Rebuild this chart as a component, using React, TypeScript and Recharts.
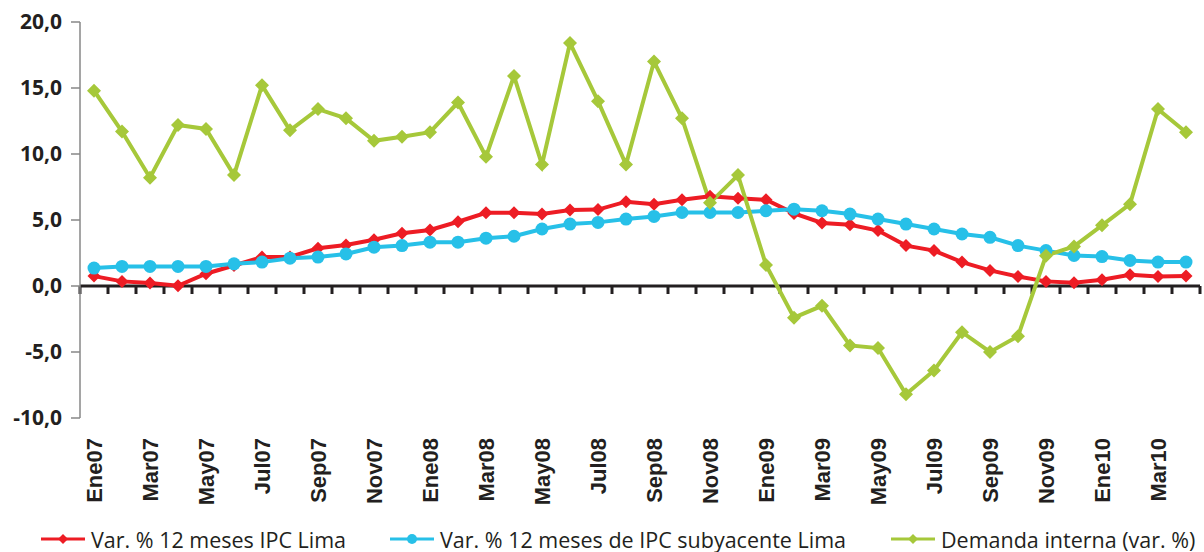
import React from 'react';
import { LineChart, Line, XAxis, YAxis, ReferenceLine, Legend } from 'recharts';

const months = [
  'Ene07', 'Feb07', 'Mar07', 'Abr07', 'May07', 'Jun07', 'Jul07', 'Ago07', 'Sep07', 'Oct07', 'Nov07', 'Dic07',
  'Ene08', 'Feb08', 'Mar08', 'Abr08', 'May08', 'Jun08', 'Jul08', 'Ago08', 'Sep08', 'Oct08', 'Nov08', 'Dic08',
  'Ene09', 'Feb09', 'Mar09', 'Abr09', 'May09', 'Jun09', 'Jul09', 'Ago09', 'Sep09', 'Oct09', 'Nov09', 'Dic09',
  'Ene10', 'Feb10', 'Mar10', 'Abr10',
];

const ipcLima = [
  0.75, 0.35, 0.23, 0.02, 0.93, 1.55, 2.19, 2.2, 2.86, 3.11, 3.51, 3.99,
  4.24, 4.87, 5.55, 5.55, 5.45, 5.75, 5.79, 6.39, 6.2, 6.54, 6.8, 6.65,
  6.53, 5.5, 4.78, 4.64, 4.2, 3.06, 2.68, 1.81, 1.18, 0.72, 0.35, 0.25,
  0.47, 0.85, 0.72, 0.76,
];

const ipcSubyacente = [
  1.36, 1.48, 1.48, 1.48, 1.48, 1.68, 1.81, 2.11, 2.19, 2.43, 2.94, 3.06,
  3.32, 3.32, 3.62, 3.77, 4.32, 4.69, 4.82, 5.07, 5.27, 5.57, 5.57, 5.57,
  5.7, 5.82, 5.7, 5.45, 5.07, 4.69, 4.32, 3.94, 3.69, 3.06, 2.68, 2.31,
  2.23, 1.93, 1.81, 1.81,
];

const demandaInterna = [
  14.8, 11.7, 8.2, 12.2, 11.9, 8.4, 15.2, 11.8, 13.4, 12.7, 11.0, 11.3,
  11.65, 13.9, 9.8, 15.9, 9.2, 18.4, 14.0, 9.2, 17.0, 12.7, 6.3, 8.4,
  1.6, -2.4, -1.5, -4.5, -4.7, -8.2, -6.4, -3.5, -5.0, -3.8, 2.3, 3.0,
  4.6, 6.2, 13.4, 11.65,
];

const yTicks = [-10, -5, 0, 5, 10, 15, 20];

const seriesNames = [
  'Var. % 12 meses IPC Lima',
  'Var. % 12 meses de IPC subyacente Lima',
  'Demanda interna (var. %)',
];

const data = months.map((month, i) => ({
  month,
  ipc: ipcLima[i],
  sub: ipcSubyacente[i],
  dem: demandaInterna[i],
}));

const RED = '#ed1c24';
const BLUE = '#27c0e8';
const GREEN = '#a6c83a';
const INK = '#231f20';

const diamondPath = (cx: number, cy: number, r: number) =>
  `M${cx},${cy - r}L${cx + r},${cy}L${cx},${cy + r}L${cx - r},${cy}Z`;

const diamondDot = (color: string, r: number) => (props: any) => {
  const { cx, cy, index } = props;
  if (cx == null || cy == null) return <g key={index} />;
  return <path key={index} d={diamondPath(cx, cy, r)} fill={color} />;
};

// black zero line with tick marks at the month boundaries
const ZeroAxis = (props: any) => {
  const { x1, x2, y1 } = props;
  const step = (x2 - x1) / months.length;
  return (
    <g>
      <line x1={x1} x2={x2} y1={y1} y2={y1} stroke={INK} strokeWidth={3} />
      {months.concat(['']).map((_, i) => (
        <line key={i} x1={x1 + i * step} x2={x1 + i * step} y1={y1} y2={y1 + 8} stroke={INK} strokeWidth={3} />
      ))}
    </g>
  );
};

const MonthTick = (props: any) => {
  const { x, y, payload } = props;
  return (
    <text
      x={x}
      y={y}
      transform={`rotate(-90, ${x}, ${y})`}
      textAnchor="end"
      dy="0.36em"
      fill={INK}
      fontFamily="'Liberation Sans', Arial, sans-serif"
      fontWeight={700}
      fontSize={22}
    >
      {payload.value}
    </text>
  );
};

const LegendContent = () => {
  const items = [
    { name: seriesNames[0], color: RED, marker: 'diamond', left: 41 },
    { name: seriesNames[1], color: BLUE, marker: 'circle', left: 390 },
    { name: seriesNames[2], color: GREEN, marker: 'diamond', left: 891 },
  ];
  return (
    <div style={{ position: 'relative', height: 32, width: 1204 }}>
      {items.map((it) => (
        <div
          key={it.name}
          style={{ position: 'absolute', left: it.left, top: 8, display: 'flex', alignItems: 'center', height: 26 }}
        >
          <svg width={44} height={14} style={{ marginRight: 6 }}>
            <line x1={0} x2={44} y1={7} y2={7} stroke={it.color} strokeWidth={3} />
            {it.marker === 'diamond' ? (
              <path d={diamondPath(22, 7, 5)} fill={it.color} />
            ) : (
              <circle cx={22} cy={7} r={5} fill={it.color} />
            )}
          </svg>
          <span style={{ fontFamily: "'Open Sans', sans-serif", fontSize: 21.5, color: INK, whiteSpace: 'nowrap' }}>
            {it.name}
          </span>
        </div>
      ))}
    </div>
  );
};

const App: React.FC = () => {
  return (
    <div style={{ position: 'absolute', left: 0, top: 0, width: 1204, height: 552, background: '#fff' }}>
      <LineChart width={1204} height={552} data={data} margin={{ top: 22, right: 4, left: 0, bottom: 2 }}>
        <XAxis
          dataKey="month"
          scale="band"
          axisLine={false}
          tickLine={false}
          tickSize={0}
          tickMargin={20}
          interval={1}
          height={100}
          tick={<MonthTick />}
        />
        <YAxis
          domain={[-10, 20]}
          ticks={yTicks}
          allowDataOverflow
          width={80}
          axisLine={{ stroke: '#878787', strokeWidth: 1.5 }}
          tickLine={{ stroke: '#878787', strokeWidth: 1.5 }}
          tickSize={9}
          tickMargin={9}
          tickFormatter={(v: number) => v.toFixed(1).replace('.', ',')}
          tick={{ fill: INK, fontFamily: "'Open Sans', sans-serif", fontWeight: 700, fontSize: 21 }}
        />
        <ReferenceLine y={0} shape={<ZeroAxis />} />
        <Legend verticalAlign="bottom" height={32} content={<LegendContent />} />
        <Line
          dataKey="ipc"
          name={seriesNames[0]}
          stroke={RED}
          strokeWidth={4}
          dot={diamondDot(RED, 6.5)}
          activeDot={false}
          isAnimationActive={false}
        />
        <Line
          dataKey="sub"
          name={seriesNames[1]}
          stroke={BLUE}
          strokeWidth={4}
          dot={{ r: 6.5, fill: BLUE, stroke: 'none' }}
          activeDot={false}
          isAnimationActive={false}
        />
        <Line
          dataKey="dem"
          name={seriesNames[2]}
          stroke={GREEN}
          strokeWidth={4}
          dot={diamondDot(GREEN, 7)}
          activeDot={false}
          isAnimationActive={false}
        />
      </LineChart>
    </div>
  );
};

export default App;
